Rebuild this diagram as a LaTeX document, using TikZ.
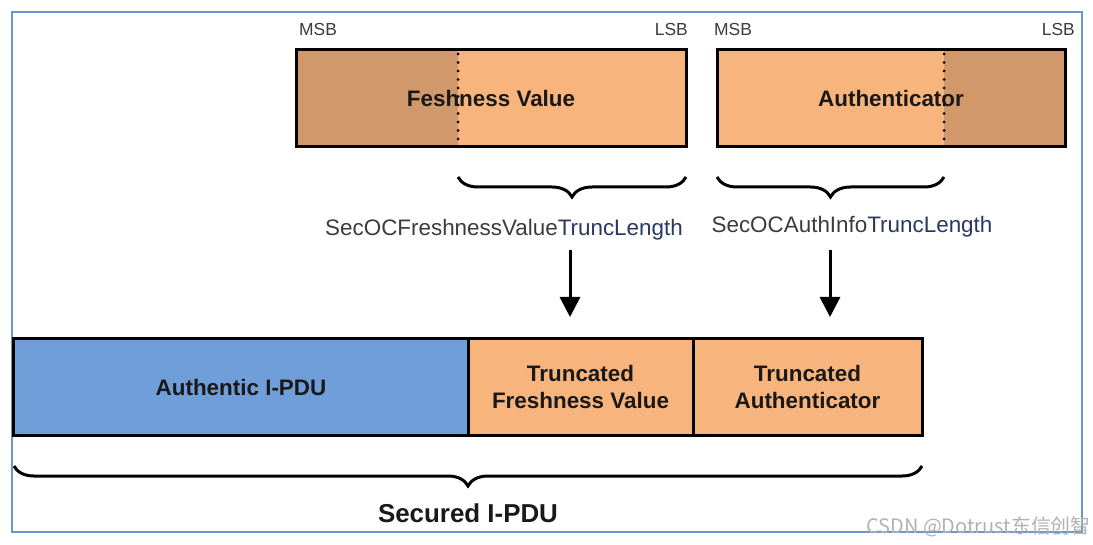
\documentclass[tikz,border=0pt]{standalone}
\usepackage{fontspec}
\setmainfont{Liberation Sans}
\newfontfamily\cjkfont{Noto Sans CJK SC}
\usetikzlibrary{arrows.meta,decorations.pathreplacing}
\definecolor{lor}{HTML}{F7B47D}
\definecolor{dor}{HTML}{D1996B}
\definecolor{pblue}{HTML}{709ED9}
\definecolor{frameblue}{HTML}{6A97D0}
\definecolor{lblgray}{HTML}{3C3C3C}
\definecolor{lblnavy}{HTML}{2B3763}
\begin{document}
\begin{tikzpicture}[x=1bp,y=-1bp,
  fieldbox/.style={draw=black,line width=3bp,inner sep=0pt,text=black!90,
    font=\fontsize{22.5}{27}\selectfont\bfseries,align=center},
  bitlbl/.style={inner sep=0pt,text=lblgray,font=\fontsize{17.5}{20}\selectfont},
  parlbl/.style={inner sep=0pt,text=lblgray,font=\fontsize{22.5}{26}\selectfont},
  brc/.style={draw=black,line width=3bp,decorate,decoration={brace,mirror,amplitude=20bp}},
  dotsep/.style={draw=black,line width=3bp,line cap=round,dash pattern=on 0bp off 8.5bp},
  arr/.style={draw=black,line width=3bp,-{Triangle[width=20bp,length=20bp]}}]
\useasboundingbox (0,0) rectangle (1093,545);
\fill[white] (0,0) rectangle (1093,545);
% outer frame
\draw[frameblue,line width=1.5bp] (12,12) rectangle (1082,532);
% top field boxes
\node[fieldbox,fill=lor,minimum width=390bp,minimum height=97bp,
  path picture={\fill[dor] (path picture bounding box.north west) rectangle ([xshift=162bp]path picture bounding box.south west);}]
  (fv) at (491,98.5) {};
\node[fieldbox,fill=lor,minimum width=348bp,minimum height=97bp,
  path picture={\fill[dor] ([xshift=-121bp]path picture bounding box.north east) rectangle (path picture bounding box.south east);}]
  (au) at (891,98.5) {};
\draw[dotsep] (458,54) -- (458,146);
\draw[dotsep] (944,54) -- (944,146);
\node[fieldbox,draw=none,fill=none] (fvt) at (fv) {Feshness Value};
\node[fieldbox,draw=none,fill=none] (aut) at (au) {Authenticator};
% MSB / LSB
\node[bitlbl,anchor=west] (msb1) at (299,30) {MSB};
\node[bitlbl,anchor=east] (lsb1) at (688,30) {LSB};
\node[bitlbl,anchor=west] (msb2) at (714,30) {MSB};
\node[bitlbl,anchor=east] (lsb2) at (1075,30) {LSB};
% braces
\coordinate (b1l) at (458,177);
\coordinate (b1r) at (686,177);
\coordinate (b2l) at (717,177);
\coordinate (b2r) at (944,177);
\draw[brc] (b1l) -- (b1r);
\draw[brc] (b2l) -- (b2r);
% parameter labels
\node[parlbl] (lab1) at (504,230) {SecOCFreshnessValue\textcolor{lblnavy}{TruncLength}};
\node[parlbl] (lab2) at (852,227) {SecOCAuthInfo\textcolor{lblnavy}{TruncLength}};
% bottom secured PDU
\node[fieldbox,fill=pblue,minimum width=454bp,minimum height=96bp] (api) at (241,387) {Authentic I-PDU};
\node[fieldbox,fill=lor,minimum width=225bp,minimum height=96bp] (tfv) at (580.5,387) {Truncated\\Freshness Value};
\node[fieldbox,fill=lor,minimum width=229bp,minimum height=96bp] (tau) at (807.5,387) {Truncated\\Authenticator};
% arrows
\coordinate (a1s) at (570,250);
\coordinate (a1e) at (570,317);
\coordinate (a2s) at (830,250);
\coordinate (a2e) at (830,317);
\draw[arr] (a1s) -- (a1e);
\draw[arr] (a2s) -- (a2e);
% bottom brace
\coordinate (b3l) at (14,466);
\coordinate (b3r) at (922,466);
\draw[brc] (b3l) -- (b3r);
\node[inner sep=0pt,text=black!90,font=\fontsize{26}{30}\selectfont\bfseries] (sec) at (468,513) {Secured I-PDU};
% watermark
\node[inner sep=0pt,anchor=east,text=black!30,font=\cjkfont\fontsize{20}{24}\selectfont] (wm) at (1091,527) {CSDN @Dotrust东信创智};
\end{tikzpicture}
\end{document}
